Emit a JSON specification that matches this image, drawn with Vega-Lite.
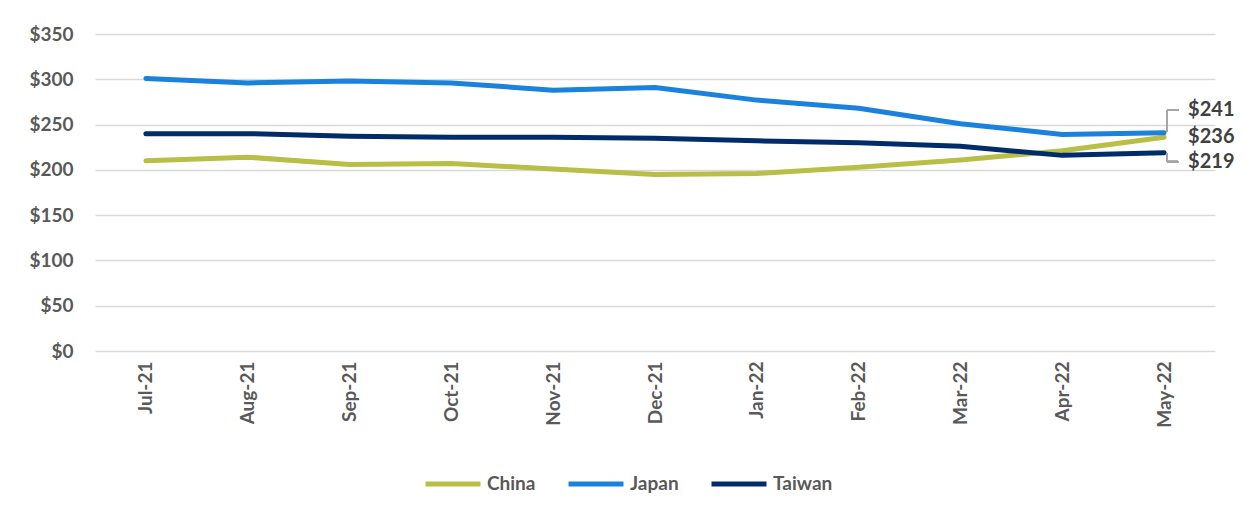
{
  "$schema": "https://vega.github.io/schema/vega-lite/v6.json",
  "width": 1120,
  "height": 317,
  "autosize": {"type": "none"},
  "padding": {"left": 95, "top": 34, "right": 29, "bottom": 167},
  "background": "white",
  "config": {"view": {"stroke": null}, "font": "Lato"},
  "data": {
    "values": [
      {"month": "Jul-21", "country": "China", "price": 210},
      {"month": "Aug-21", "country": "China", "price": 214},
      {"month": "Sep-21", "country": "China", "price": 206},
      {"month": "Oct-21", "country": "China", "price": 207},
      {"month": "Nov-21", "country": "China", "price": 201},
      {"month": "Dec-21", "country": "China", "price": 195},
      {"month": "Jan-22", "country": "China", "price": 196},
      {"month": "Feb-22", "country": "China", "price": 203},
      {"month": "Mar-22", "country": "China", "price": 211},
      {"month": "Apr-22", "country": "China", "price": 221},
      {"month": "May-22", "country": "China", "price": 236},
      {"month": "Jul-21", "country": "Japan", "price": 301},
      {"month": "Aug-21", "country": "Japan", "price": 296},
      {"month": "Sep-21", "country": "Japan", "price": 298},
      {"month": "Oct-21", "country": "Japan", "price": 296},
      {"month": "Nov-21", "country": "Japan", "price": 288},
      {"month": "Dec-21", "country": "Japan", "price": 291},
      {"month": "Jan-22", "country": "Japan", "price": 277},
      {"month": "Feb-22", "country": "Japan", "price": 268},
      {"month": "Mar-22", "country": "Japan", "price": 251},
      {"month": "Apr-22", "country": "Japan", "price": 239},
      {"month": "May-22", "country": "Japan", "price": 241},
      {"month": "Jul-21", "country": "Taiwan", "price": 240},
      {"month": "Aug-21", "country": "Taiwan", "price": 240},
      {"month": "Sep-21", "country": "Taiwan", "price": 237},
      {"month": "Oct-21", "country": "Taiwan", "price": 236},
      {"month": "Nov-21", "country": "Taiwan", "price": 236},
      {"month": "Dec-21", "country": "Taiwan", "price": 235},
      {"month": "Jan-22", "country": "Taiwan", "price": 232},
      {"month": "Feb-22", "country": "Taiwan", "price": 230},
      {"month": "Mar-22", "country": "Taiwan", "price": 226},
      {"month": "Apr-22", "country": "Taiwan", "price": 216},
      {"month": "May-22", "country": "Taiwan", "price": 219}
    ]
  },
  "encoding": {
    "x": {
      "field": "month",
      "type": "ordinal",
      "scale": {
        "type": "point",
        "padding": 0.5,
        "domain": ["Jul-21", "Aug-21", "Sep-21", "Oct-21", "Nov-21", "Dec-21", "Jan-22", "Feb-22", "Mar-22", "Apr-22", "May-22"]
      },
      "axis": {
        "title": null,
        "labelAngle": -90,
        "labelPadding": 10,
        "domain": false,
        "ticks": false,
        "grid": false,
        "labelFontSize": 19,
        "labelFontWeight": "bold",
        "labelColor": "#595959"
      }
    },
    "y": {
      "field": "price",
      "type": "quantitative",
      "scale": {"domain": [0, 350], "nice": false},
      "axis": {
        "title": null,
        "values": [0, 50, 100, 150, 200, 250, 300, 350],
        "format": "$.0f",
        "domain": false,
        "ticks": false,
        "labelPadding": 22,
        "labelFontSize": 19,
        "labelFontWeight": "bold",
        "labelColor": "#595959",
        "gridColor": "#d9d9d9",
        "gridWidth": 1.5
      }
    }
  },
  "layer": [
    {
      "mark": {"type": "line", "strokeWidth": 5, "strokeCap": "round", "strokeJoin": "round"},
      "encoding": {
        "color": {
          "field": "country",
          "type": "nominal",
          "scale": {"domain": ["China", "Japan", "Taiwan"], "range": ["#b8bf46", "#1a82dc", "#002d6a"]},
          "legend": {
            "title": null,
            "orient": "none",
            "direction": "horizontal",
            "legendX": 328,
            "legendY": 420,
            "symbolType": "stroke",
            "symbolStrokeWidth": 5,
            "symbolSize": 3025,
            "labelOffset": 4,
            "columnPadding": 22,
            "labelFontSize": 19,
            "labelFontWeight": "bold",
            "labelColor": "#595959"
          }
        }
      }
    },
    {
      "mark": {"type": "rule", "color": "#a6a6a6", "strokeWidth": 1.5, "xOffset": 3},
      "encoding": {"x": {"datum": "May-22"}, "y": {"datum": 242}, "y2": {"datum": 266}}
    },
    {
      "mark": {"type": "rule", "color": "#a6a6a6", "strokeWidth": 1.5, "xOffset": 3, "x2Offset": 14},
      "encoding": {"x": {"datum": "May-22"}, "x2": {"datum": "May-22"}, "y": {"datum": 266}}
    },
    {
      "mark": {"type": "rule", "color": "#a6a6a6", "strokeWidth": 1.5, "xOffset": 3},
      "encoding": {"x": {"datum": "May-22"}, "y": {"datum": 218}, "y2": {"datum": 209}}
    },
    {
      "mark": {"type": "rule", "color": "#a6a6a6", "strokeWidth": 1.5, "xOffset": 3, "x2Offset": 14},
      "encoding": {"x": {"datum": "May-22"}, "x2": {"datum": "May-22"}, "y": {"datum": 209}}
    },
    {
      "transform": [{"filter": "datum.month === 'May-22' && datum.country === 'Japan'"}],
      "mark": {"type": "text", "align": "left", "baseline": "middle", "dx": 24, "dy": -23, "fontSize": 20, "fontWeight": "bold", "color": "#404040"},
      "encoding": {"text": {"field": "price", "type": "quantitative", "format": "$.0f"}}
    },
    {
      "transform": [{"filter": "datum.month === 'May-22' && datum.country === 'China'"}],
      "mark": {"type": "text", "align": "left", "baseline": "middle", "dx": 24, "dy": 0, "fontSize": 20, "fontWeight": "bold", "color": "#404040"},
      "encoding": {"text": {"field": "price", "type": "quantitative", "format": "$.0f"}}
    },
    {
      "transform": [{"filter": "datum.month === 'May-22' && datum.country === 'Taiwan'"}],
      "mark": {"type": "text", "align": "left", "baseline": "middle", "dx": 24, "dy": 9, "fontSize": 20, "fontWeight": "bold", "color": "#404040"},
      "encoding": {"text": {"field": "price", "type": "quantitative", "format": "$.0f"}}
    }
  ]
}
